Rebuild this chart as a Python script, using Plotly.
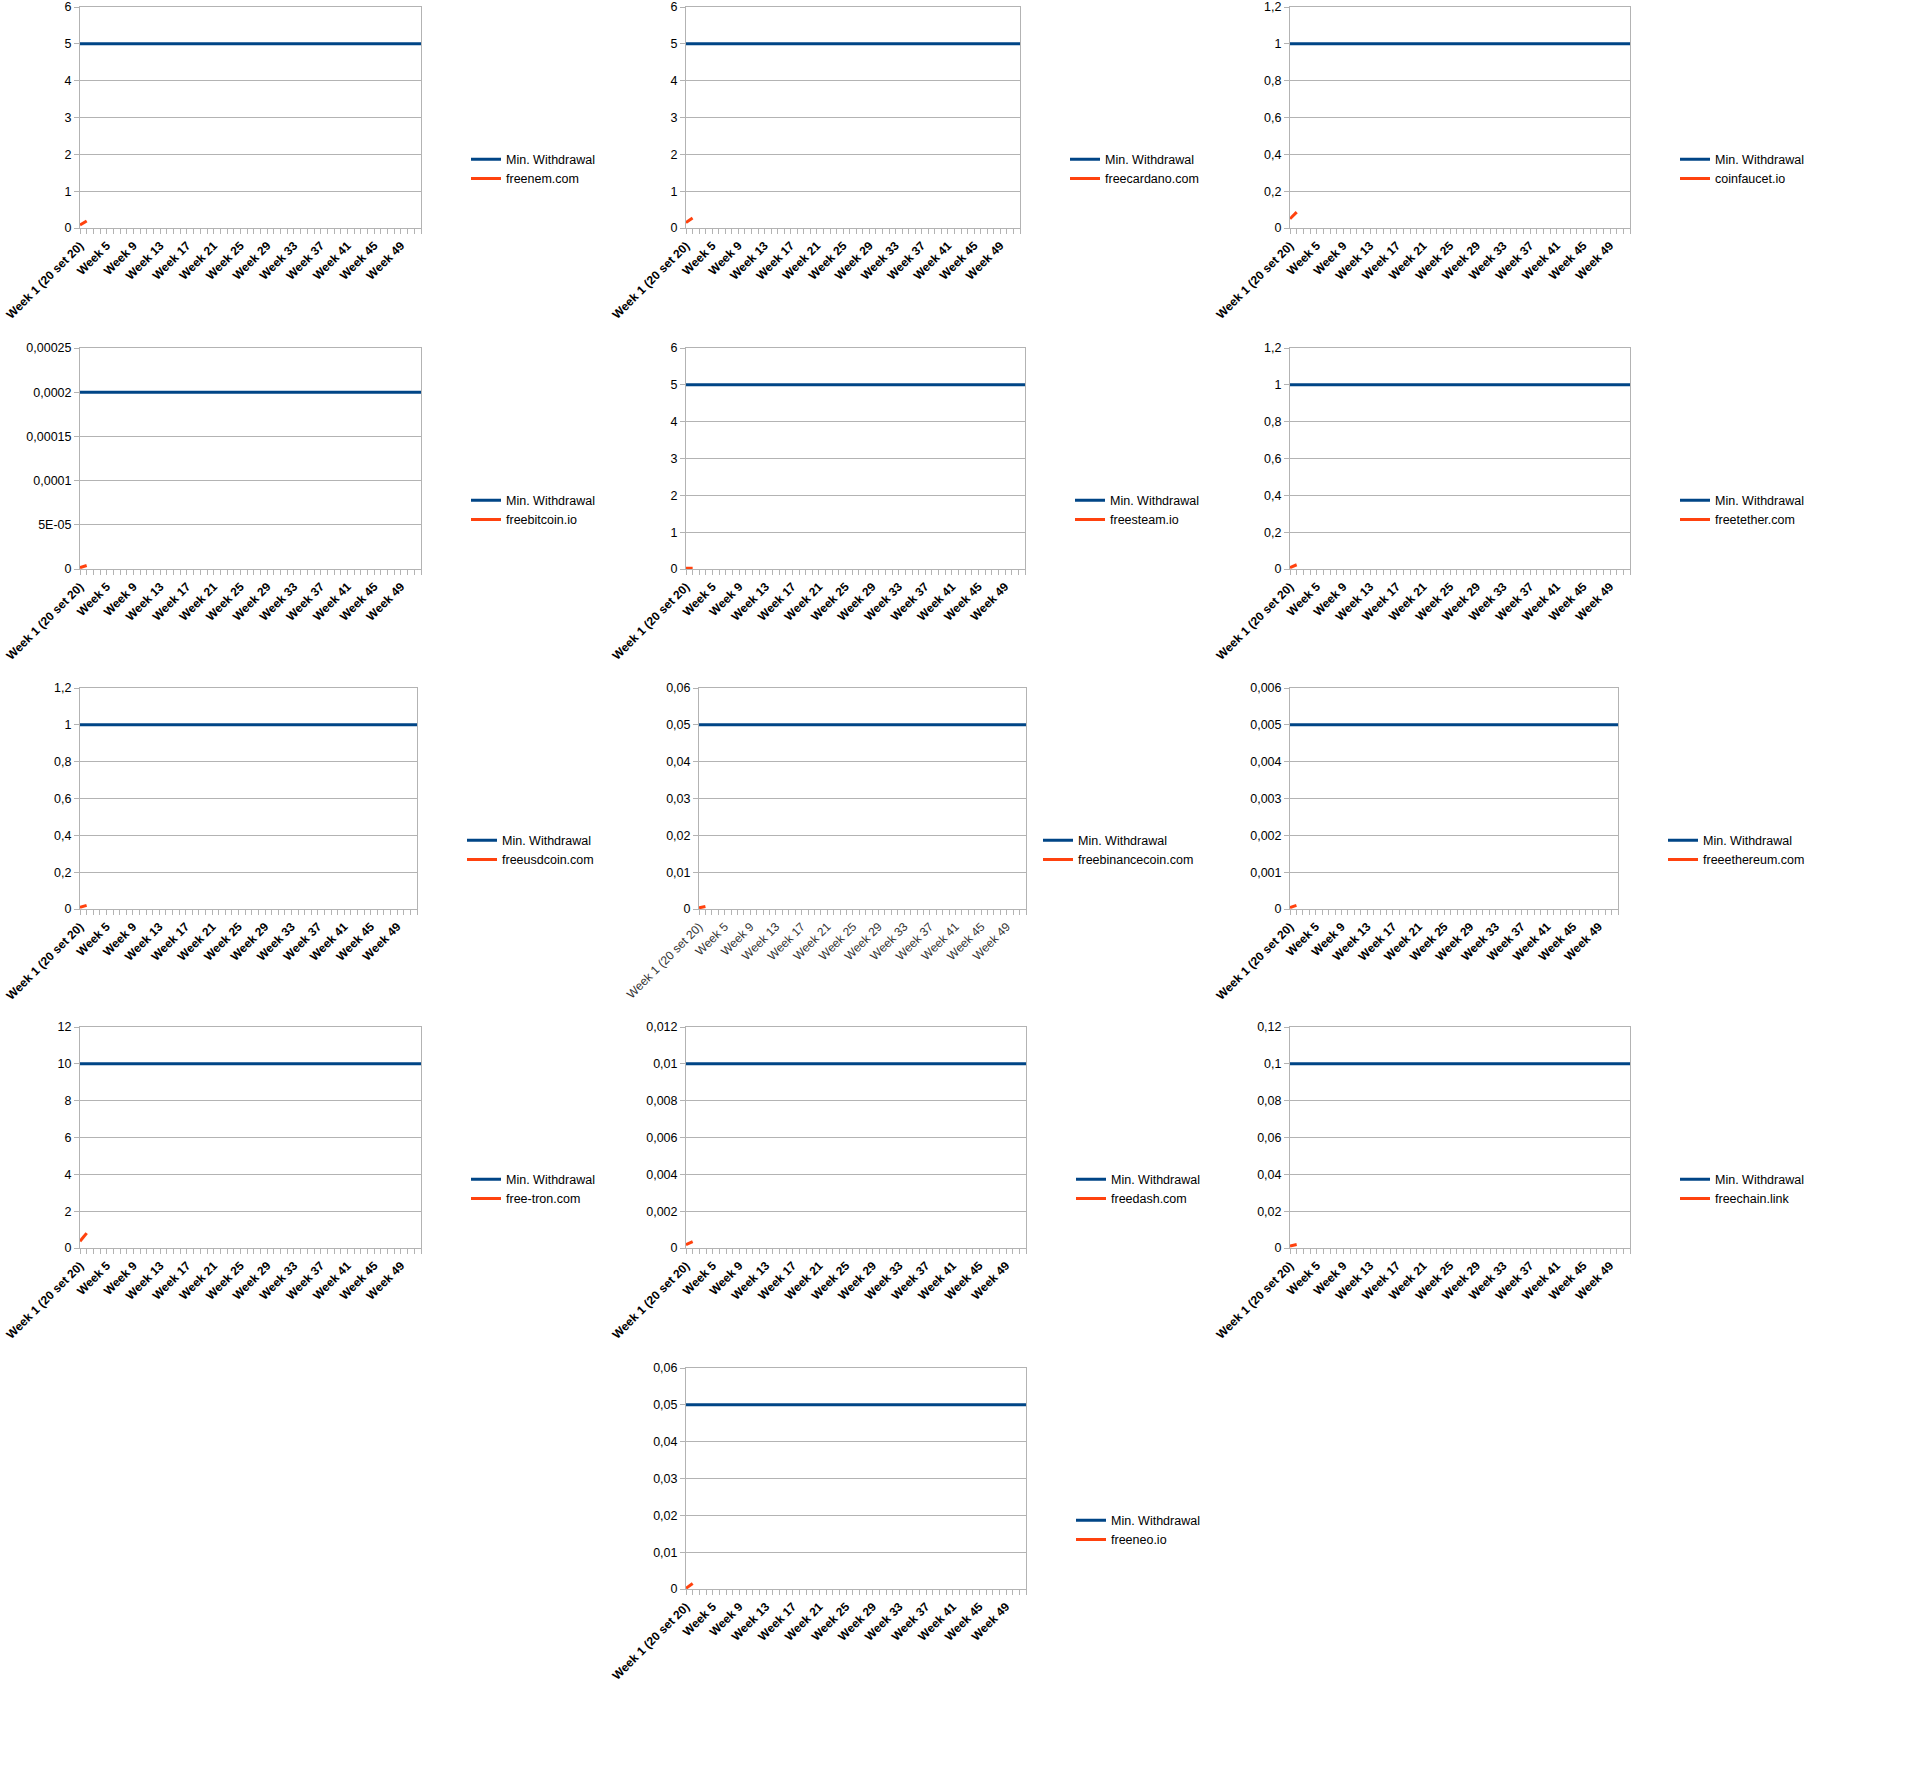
import plotly.graph_objects as go

# categories on the x axis
weeks = ["Week 1 (20 set 20)"] + [f"Week {n}" for n in range(2, 53)]

sites = ["freenem.com", "freecardano.com", "coinfaucet.io",
         "freebitcoin.io", "freesteam.io", "freetether.com",
         "freeusdcoin.com", "freebinancecoin.com", "freeethereum.com",
         "free-tron.com", "freedash.com", "freechain.link",
         "freeneo.io"]
min_withdrawal = [5, 5, 1, 0.0002, 5, 1, 1, 0.05, 0.005, 10, 0.01, 0.1, 0.05]
# balance read for the only two weeks that have a value
week1_balance = [0.08, 0.15, 0.05, 0.0000015, 0.02, 0.008, 0.009, 0.0003, 0.00004, 0.37, 0.00018, 0.0011, 0.0002]
week2_balance = [0.19, 0.27, 0.086, 0.000004, 0.02, 0.023, 0.02, 0.0007, 0.0001, 0.81, 0.00034, 0.0019, 0.0015]
y_max = [6, 6, 1.2, 0.00025, 6, 1.2, 1.2, 0.06, 0.006, 12, 0.012, 0.12, 0.06]
y_step = [1, 1, 0.2, 0.00005, 1, 0.2, 0.2, 0.01, 0.001, 2, 0.002, 0.02, 0.01]

W, H = 1913, 1769
BLUE = "#004586"
ORANGE = "#ff420e"
GRID = "#b3b3b3"
FONT = "Liberation Sans"

row_top = [7, 348, 688, 1027, 1368]
plot_h = 221
# row, plot left, plot right, legend line start (pixels)
boxes = [
    (0, 80, 421, 471), (0, 686, 1020, 1070), (0, 1290, 1630, 1680),
    (1, 80, 421, 471), (1, 686, 1025, 1075), (1, 1290, 1630, 1680),
    (2, 80, 417, 467), (2, 699, 1026, 1043), (2, 1290, 1618, 1668),
    (3, 80, 421, 471), (3, 686, 1026, 1076), (3, 1290, 1630, 1680),
    (4, 686, 1026, 1076),
]


def fmt(v):
    if v == 0:
        return "0"
    return f"{v:g}".upper().replace(".", ",")


fig = go.Figure()
layout = {}

for i, site in enumerate(sites):
    n = "" if i == 0 else str(i + 1)
    leg = "legend" + n
    row, left, right, leg_x = boxes[i]
    top = row_top[row]

    fig.add_trace(go.Scatter(
        x=weeks, y=[min_withdrawal[i]] * len(weeks), mode="lines",
        name="Min. Withdrawal", line=dict(color=BLUE, width=3),
        xaxis="x" + n, yaxis="y" + n, legend=leg))
    orange = [week1_balance[i], week2_balance[i]] + [None] * (len(weeks) - 2)
    fig.add_trace(go.Scatter(
        x=weeks, y=orange, mode="lines", name=site,
        line=dict(color=ORANGE, width=3), connectgaps=False,
        xaxis="x" + n, yaxis="y" + n, legend=leg))

    steps = round(y_max[i] / y_step[i])
    yvals = [round(k * y_step[i], 10) for k in range(steps + 1)]

    regular = site == "freebinancecoin.com"
    layout["xaxis" + n] = dict(
        domain=[left / W, right / W], anchor="y" + n, automargin=False,
        type="category", categoryorder="array", categoryarray=weeks,
        range=[0, len(weeks) - 1],
        tickmode="array", tickvals=weeks,
        ticktext=[w if k % 4 == 0 else "" for k, w in enumerate(weeks)],
        tickangle=-45, ticks="outside", ticklen=5, tickcolor=GRID,
        ticklabeloverflow="allow",
        showgrid=False, showline=True, linecolor=GRID, linewidth=1, mirror=True,
        tickfont=dict(family=FONT, size=12,
                      color="#333333" if regular else "black",
                      weight="normal" if regular else "bold"),
    )
    layout["yaxis" + n] = dict(
        domain=[1 - (top + plot_h) / H, 1 - top / H], anchor="x" + n,
        automargin=False,
        range=[0, y_max[i]], tickmode="array", tickvals=yvals,
        ticktext=[fmt(v) for v in yvals],
        ticks="outside", ticklen=5, tickcolor=GRID,
        ticklabeloverflow="allow",
        showgrid=True, gridcolor=GRID, gridwidth=1, zeroline=False,
        showline=True, linecolor=GRID, linewidth=1, mirror=True,
        tickfont=dict(family=FONT, size=12.5, color="black"),
    )
    layout[leg] = dict(
        x=(leg_x - 5) / W, xanchor="left",
        y=1 - (top + 162) / H, yanchor="middle",
        bgcolor="rgba(0,0,0,0)", font=dict(family=FONT, size=12.5, color="black"),
        tracegroupgap=0, itemwidth=30,
    )

fig.update_layout(
    width=W, height=H,
    margin=dict(l=0, r=0, t=0, b=0, autoexpand=False),
    paper_bgcolor="white", plot_bgcolor="white",
    showlegend=True,
    **layout,
)

# the page's default body margin would shift the whole figure by 8px
fig.write_html("out.html", config={"displayModeBar": False},
               post_script="document.body.style.margin = '0';")
